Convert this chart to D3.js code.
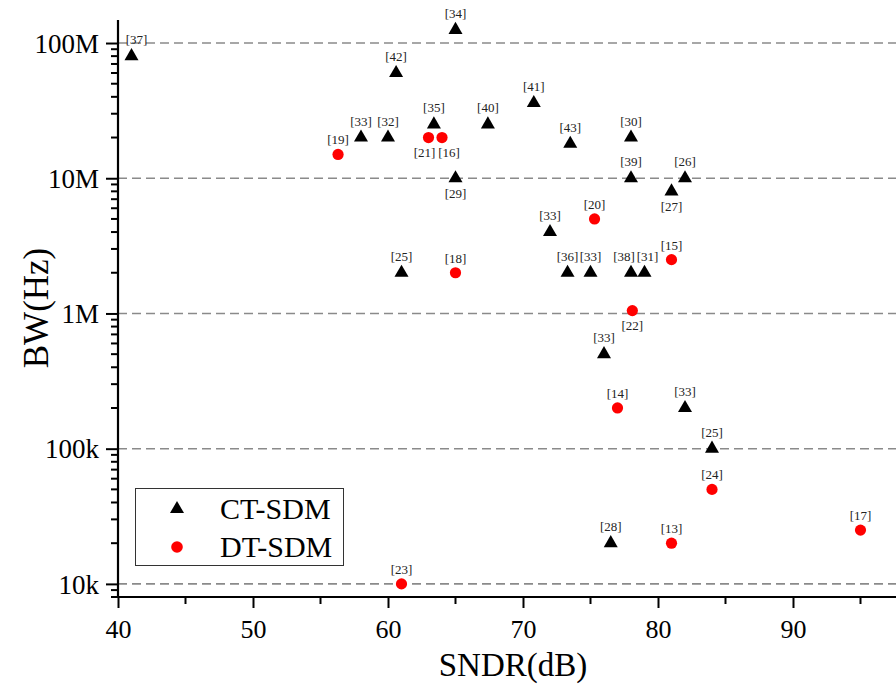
<!DOCTYPE html>
<html><head><meta charset="utf-8">
<script src="https://cdn.jsdelivr.net/npm/d3@7"></script>
<style>body{margin:0;background:#fff} svg{display:block} text{font-family:"Liberation Serif","Times New Roman",serif}</style>
</head><body><svg id="c" width="896" height="686"></svg>
<script>
// CT-SDM (triangles)
const ctSNDR = [41, 65, 60.6, 58, 60, 63.4, 67.4, 70.8, 73.5, 78, 78, 82, 81, 65, 72, 61, 73.3, 75, 78, 79, 76, 82, 84, 76.5];
const ctBW = [80e6, 125e6, 60e6, 20e6, 20e6, 25e6, 25e6, 36e6, 18e6, 20e6, 10e6, 10e6, 8e6, 10e6, 4e6, 2e6, 2e6, 2e6, 2e6, 2e6, 500e3, 200e3, 100e3, 20e3];
const ctRef = ["[37]","[34]","[42]","[33]","[32]","[35]","[40]","[41]","[43]","[30]","[39]","[26]","[27]","[29]","[33]","[25]","[36]","[33]","[38]","[31]","[33]","[33]","[25]","[28]"];
const ctSide = ["t","t","t","t","t","t","t","t","t","t","t","t","b","b","t","t","t","t","t","t","t","t","t","t"];
// DT-SDM (circles)
const dtSNDR = [56.3, 63, 64, 75.3, 65, 81, 78.1, 77, 84, 81, 95, 61];
const dtBW = [15e6, 20e6, 20e6, 5e6, 2e6, 2.5e6, 1.05e6, 200e3, 50e3, 20e3, 25e3, 10e3];
const dtRef = ["[19]","[21]","[16]","[20]","[18]","[15]","[22]","[14]","[24]","[13]","[17]","[23]"];
const dtSide = ["t","b","b","t","t","t","b","t","t","t","t","t"];
// axes
const xTicks = [40, 50, 60, 70, 80, 90];
const xMinor = [45, 55, 65, 75, 85, 95];
const yTicks = [1e4, 1e5, 1e6, 1e7, 1e8];
const yTickLabels = ["10k", "100k", "1M", "10M", "100M"];
const seriesNames = ["CT-SDM", "DT-SDM"];

// small horizontal label nudges (pixels) to avoid crowded labels
const ctNudge = { 0: 5, 18: -7, 19: 3 };
const dtNudge = { 1: -4, 2: 7 };

const svg = d3.select("#c");
const x = d3.scaleLinear().domain([40, 97.63]).range([118, 896]);
const y = d3.scaleLog().domain([8000, 1.48e8]).range([597, 20]);

// grid
svg.append("g").selectAll("line").data(yTicks).join("line")
  .attr("x1", x(40)).attr("x2", 896)
  .attr("y1", d => y(d)).attr("y2", d => y(d))
  .attr("stroke", "#8a8a8a").attr("stroke-width", 1.6).attr("stroke-dasharray", "9,5");

// y axis
const yAxis = d3.axisLeft(y).tickValues(yTicks).tickFormat((d, i) => yTickLabels[i]).tickSize(12).tickPadding(7);
const gy = svg.append("g").attr("transform", `translate(${x(40)},0)`).call(yAxis);
const yMinorVals = y.ticks().filter(v => !yTicks.includes(v));
gy.selectAll(".minor").data(yMinorVals).join("line").attr("class", "minor")
  .attr("x1", -7).attr("x2", 0).attr("y1", d => y(d)).attr("y2", d => y(d))
  .attr("stroke", "#000").attr("stroke-width", 2);

// x axis
const xAxis = d3.axisBottom(x).tickValues(xTicks).tickSize(11).tickPadding(12);
const gx = svg.append("g").attr("transform", `translate(0,${y.range()[0]})`).call(xAxis);
gx.selectAll(".minor").data(xMinor).join("line").attr("class", "minor")
  .attr("x1", d => x(d)).attr("x2", d => x(d)).attr("y1", 0).attr("y2", 7)
  .attr("stroke", "#000").attr("stroke-width", 2);

[gx, gy].forEach(g => {
  g.select(".domain").attr("stroke", "#000").attr("stroke-width", 2.2);
  g.selectAll(".tick line").attr("stroke", "#000").attr("stroke-width", 2);
  g.selectAll(".tick text").attr("fill", "#000").style("font-family", '"Liberation Serif",serif');
});
gy.select(".domain").attr("d", `M0,${y.range()[1]}V${y.range()[0]}`);
gx.select(".domain").attr("d", `M${x(40)},0H896`);
gy.selectAll(".tick text").style("font-size", "27px").attr("dy", "0.34em");
gx.selectAll(".tick text").style("font-size", "26px");

// axis titles
svg.append("text").attr("transform", `translate(48,308) rotate(-90)`)
  .attr("text-anchor", "middle").style("font-size", "35px").text("BW(Hz)");
svg.append("text").attr("x", 513).attr("y", 676)
  .attr("text-anchor", "middle").style("font-size", "33px").text("SNDR(dB)");

const tri = d3.symbol().type(d3.symbolTriangle).size(85);
const ct = ctSNDR.map((v, i) => ({ x: v, y: ctBW[i], ref: ctRef[i], side: ctSide[i], dx: ctNudge[i] || 0 }));
const dt = dtSNDR.map((v, i) => ({ x: v, y: dtBW[i], ref: dtRef[i], side: dtSide[i], dx: dtNudge[i] || 0 }));

svg.append("g").selectAll("path").data(ct).join("path")
  .attr("d", tri).attr("transform", d => `translate(${x(d.x)},${y(d.y)})`).attr("fill", "#000");
svg.append("g").selectAll("circle").data(dt).join("circle")
  .attr("cx", d => x(d.x)).attr("cy", d => y(d.y)).attr("r", 5.6).attr("fill", "#ff0000");

const lab = svg.append("g").style("font-size", "13px").attr("fill", "#222").attr("text-anchor", "middle");
lab.selectAll(".ct").data(ct).join("text").attr("class", "ct")
  .attr("x", d => x(d.x) + d.dx).attr("y", d => y(d.y) + (d.side === "t" ? -12 : 20)).text(d => d.ref);
lab.selectAll(".dt").data(dt).join("text").attr("class", "dt")
  .attr("x", d => x(d.x) + d.dx).attr("y", d => y(d.y) + (d.side === "t" ? -10 : 19)).text(d => d.ref);

// legend
const lg = svg.append("g");
lg.append("rect").attr("x", 135.5).attr("y", 488.5).attr("width", 208).attr("height", 77)
  .attr("fill", "#fff").attr("stroke", "#333").attr("stroke-width", 1);
lg.append("path").attr("d", tri).attr("transform", "translate(177,509)").attr("fill", "#000");
lg.append("circle").attr("cx", 177).attr("cy", 547).attr("r", 5.8).attr("fill", "#ff0000");
lg.selectAll("text").data(seriesNames).join("text")
  .attr("x", 220).attr("y", (d, i) => 519 + i * 38).style("font-size", "30px").attr("fill", "#000").text(d => d);
</script></body></html>
